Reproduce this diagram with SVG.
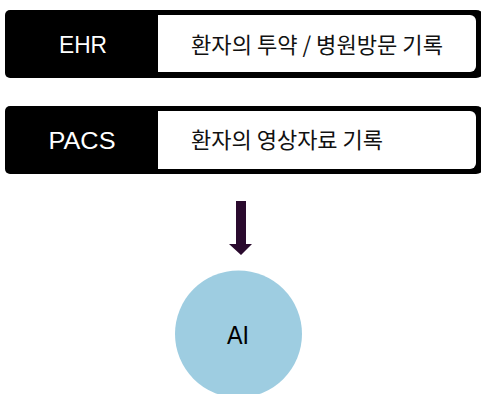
<svg xmlns="http://www.w3.org/2000/svg" width="481" height="394" viewBox="0 0 481 394">
<style>
.outer{fill:#000}
.inner{fill:#fff}
.lbl{font-family:"Liberation Sans","Noto Sans CJK KR",sans-serif;font-size:24px;fill:#fff;text-anchor:middle}
.desc{font-family:"Noto Sans CJK KR",sans-serif;font-size:22px;fill:#111}
.ai{font-family:"Liberation Sans",sans-serif;font-size:25px;fill:#000;text-anchor:middle}
</style>
<rect width="481" height="394" fill="#fff"/>
<g id="ehr">
<rect class="outer" x="5" y="10" width="480" height="68" rx="9"/>
<rect class="inner" x="150" y="15" width="326" height="57" rx="6"/>
<rect class="outer" x="5" y="10" width="153" height="68" rx="5"/>
<text class="lbl" x="83" y="53" textLength="48" lengthAdjust="spacingAndGlyphs">EHR</text>
<text class="desc" x="191" y="53" textLength="252" lengthAdjust="spacingAndGlyphs">환자의 투약 / 병원방문 기록</text>
</g>
<g id="pacs">
<rect class="outer" x="5" y="106" width="480" height="68" rx="9"/>
<rect class="inner" x="150" y="111" width="326" height="58" rx="6"/>
<rect class="outer" x="5" y="106" width="153" height="68" rx="5"/>
<text class="lbl" x="82" y="149" textLength="67" lengthAdjust="spacingAndGlyphs">PACS</text>
<text class="desc" x="191" y="148">환자의 영상자료 기록</text>
</g>
<g id="connectors">
<polygon points="236,201 246,201 246,244 252,244 241,255 229,244 236,244" fill="#2a0a2e"/>
</g>
<g id="ai">
<circle cx="238.5" cy="334" r="63.5" fill="#9ecde1"/>
<text class="ai" x="238" y="344" textLength="22" lengthAdjust="spacingAndGlyphs">AI</text>
</g>
</svg>
